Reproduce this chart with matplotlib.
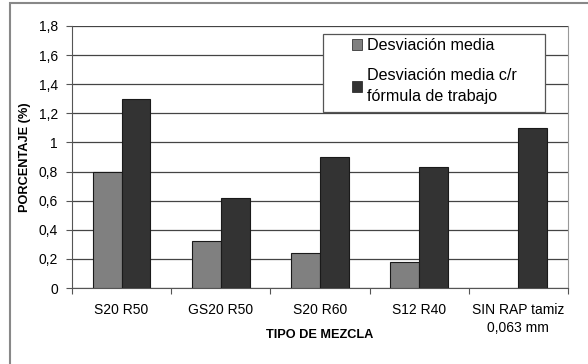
import numpy as np
import matplotlib
matplotlib.use('Agg')
import matplotlib.pyplot as plt
from matplotlib.patches import Rectangle

plt.rcParams['font.family'] = ['Liberation Sans', 'DejaVu Sans']

categorias = ['S20 R50', 'GS20 R50', 'S20 R60', 'S12 R40', 'SIN RAP tamiz\n0,063 mm']
desv_media = [0.80, 0.32, 0.24, 0.18, 0.0]
desv_formula = [1.30, 0.62, 0.90, 0.83, 1.10]
yticks = [0, 0.2, 0.4, 0.6, 0.8, 1, 1.2, 1.4, 1.6, 1.8]
ytick_labels = ['0', '0,2', '0,4', '0,6', '0,8', '1', '1,2', '1,4', '1,6', '1,8']

fig = plt.figure(figsize=(5.88, 3.64), dpi=100)
fig.patch.set_facecolor('white')
ax = fig.add_axes([72 / 588, 1 - 288 / 364, 496 / 588, 262 / 364])

x = np.arange(len(categorias))
w = 0.29
mask = np.array(desv_media) > 0
ax.bar(x[mask] - w / 2, np.array(desv_media)[mask], w, color='#808080',
       edgecolor='#1a1a1a', linewidth=0.8, label='Desviación media', zorder=3)
ax.bar(x + w / 2, desv_formula, w, color='#333333',
       edgecolor='#1a1a1a', linewidth=0.8,
       label='Desviación media c/r\nfórmula de trabajo', zorder=3)

ax.set_xlim(-0.5, len(categorias) - 0.5)
ax.set_ylim(0, 1.8)
ax.set_yticks(yticks)
ax.set_yticklabels(ytick_labels, fontsize=10)
ax.yaxis.grid(True, color='#444444', linewidth=0.9)
ax.set_axisbelow(True)

# category labels between boundary ticks
ax.set_xticks(np.arange(len(categorias) + 1) - 0.5)
ax.set_xticklabels([])
ax.set_xticks(x, minor=True)
ax.set_xticklabels(categorias, minor=True, fontsize=10, linespacing=1.3)
ax.tick_params(axis='x', which='minor', length=0, pad=11)
ax.tick_params(axis='x', which='major', length=4, color='#555555')
ax.tick_params(axis='y', length=4, color='#555555', pad=6)

for s in ['left', 'bottom']:
    ax.spines[s].set_color('#555555')
ax.spines['right'].set_color('#999999')
ax.spines['top'].set_visible(False)

ax.set_xlabel('TIPO DE MEZCLA', fontsize=9.2, fontweight='bold')
ax.set_ylabel('PORCENTAJE (%)', fontsize=9.2, fontweight='bold')
ax.xaxis.set_label_coords(0.5, -0.155)
ax.yaxis.set_label_coords(-0.083, 0.5)

# legend box (fixed size like the original) with the entries inside
ax.add_patch(Rectangle((251 / 496, 176 / 262), 222 / 496, 78 / 262,
                       transform=ax.transAxes, facecolor='white',
                       edgecolor='#555555', linewidth=0.9, zorder=5))
leg = ax.legend(loc='upper left', bbox_to_anchor=(280 / 496, 250 / 262),
                fontsize=11.6, frameon=False, handlelength=0.65,
                handleheight=0.65, handletextpad=0.3, labelspacing=0.95,
                borderpad=0, borderaxespad=0)
leg.set_zorder(6)
leg.get_texts()[1].set_linespacing(1.5)
for h in leg.legend_handles:
    h.set_linewidth(0.5)

# outer chart frame
fig.patches.append(Rectangle((10 / 588, -0.1), 1.0, 1 - 3 / 364 + 0.1,
                             transform=fig.transFigure, fill=False,
                             edgecolor='#888888', linewidth=1.5))

fig.savefig('out.png', dpi=100)
